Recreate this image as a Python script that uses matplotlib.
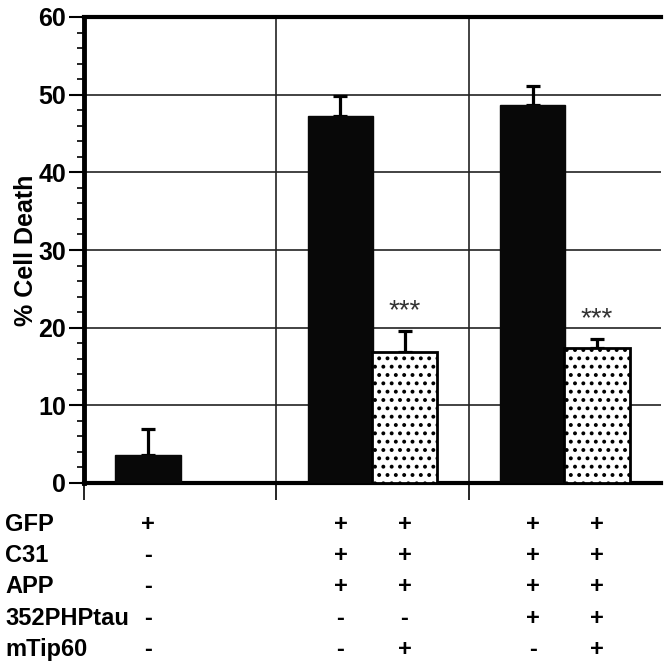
import numpy as np
import matplotlib.pyplot as plt
from matplotlib.transforms import blended_transform_factory

plt.rcParams['font.family'] = ['Liberation Sans', 'DejaVu Sans']
plt.rcParams['hatch.linewidth'] = 1.6

# bar data
positions = [1/3, 4/3, 5/3, 7/3, 8/3]
values = [3.6, 47.3, 16.9, 48.7, 17.4]
errors = [3.4, 2.5, 2.7, 2.4, 1.2]
dotted = [False, False, True, False, True]
stars = ['', '', '***', '', '***']

# condition table under the axis
row_labels = ['GFP', 'C31', 'APP', '352PHPtau', 'mTip60']
table = [
    ['+', '+', '+', '+', '+'],
    ['-', '+', '+', '+', '+'],
    ['-', '+', '+', '+', '+'],
    ['-', '-', '-', '+', '+'],
    ['-', '-', '+', '-', '+'],
]

fig = plt.figure(figsize=(6.64, 6.69), dpi=100)
ax = fig.add_axes([84/664, 186/669, 577/664, 466/669])

width = 0.34
for x, v, e, d, s in zip(positions, values, errors, dotted, stars):
    if d:
        ax.bar(x, v, width, color='white', edgecolor='black', linewidth=2,
               hatch='..', zorder=3)
    else:
        ax.bar(x, v, width, color='#080808', edgecolor='#080808', zorder=3)
    ax.errorbar(x, v, yerr=[[0], [e]], fmt='none', ecolor='black',
                elinewidth=2.3, capsize=5, capthick=2.3, zorder=2)
    if s:
        ax.text(x, v + e + 0.8, s, ha='center', va='bottom', fontsize=20,
                color='#333333')

ax.set_xlim(0, 3)
ax.set_ylim(0, 60)
ax.set_yticks(np.arange(0, 61, 10))
ax.set_yticks(np.arange(0, 61, 2), minor=True)
ax.set_xticks([0, 1, 2])
ax.set_xticklabels([])
ax.tick_params(axis='y', which='major', length=11, width=1.5, labelsize=18, pad=2)
ax.tick_params(axis='y', which='minor', length=5, width=1.2)
ax.tick_params(axis='x', which='major', length=12, width=1.2)
for lab in ax.get_yticklabels():
    lab.set_fontweight('bold')

ax.grid(True, which='major', color='#222222', linewidth=1.2)
ax.set_axisbelow(True)

ax.spines['right'].set_visible(False)
ax.spines['left'].set_linewidth(3.5)
ax.spines['top'].set_linewidth(3)
ax.spines['bottom'].set_linewidth(3)

ax.set_ylabel('% Cell Death', fontsize=18, fontweight='bold', labelpad=0)

trans = blended_transform_factory(ax.transData, ax.transAxes)
for i, lab in enumerate(row_labels):
    y = -0.088 - i * 0.0675
    ax.text(-79/577, y, lab, transform=ax.transAxes, ha='left', va='center',
            fontsize=17, fontweight='bold', clip_on=False)
    for x, sym in zip(positions, table[i]):
        ax.text(x, y, sym, transform=trans, ha='center', va='center',
                fontsize=17, fontweight='bold', clip_on=False)

fig.savefig('out.png', dpi=100)
